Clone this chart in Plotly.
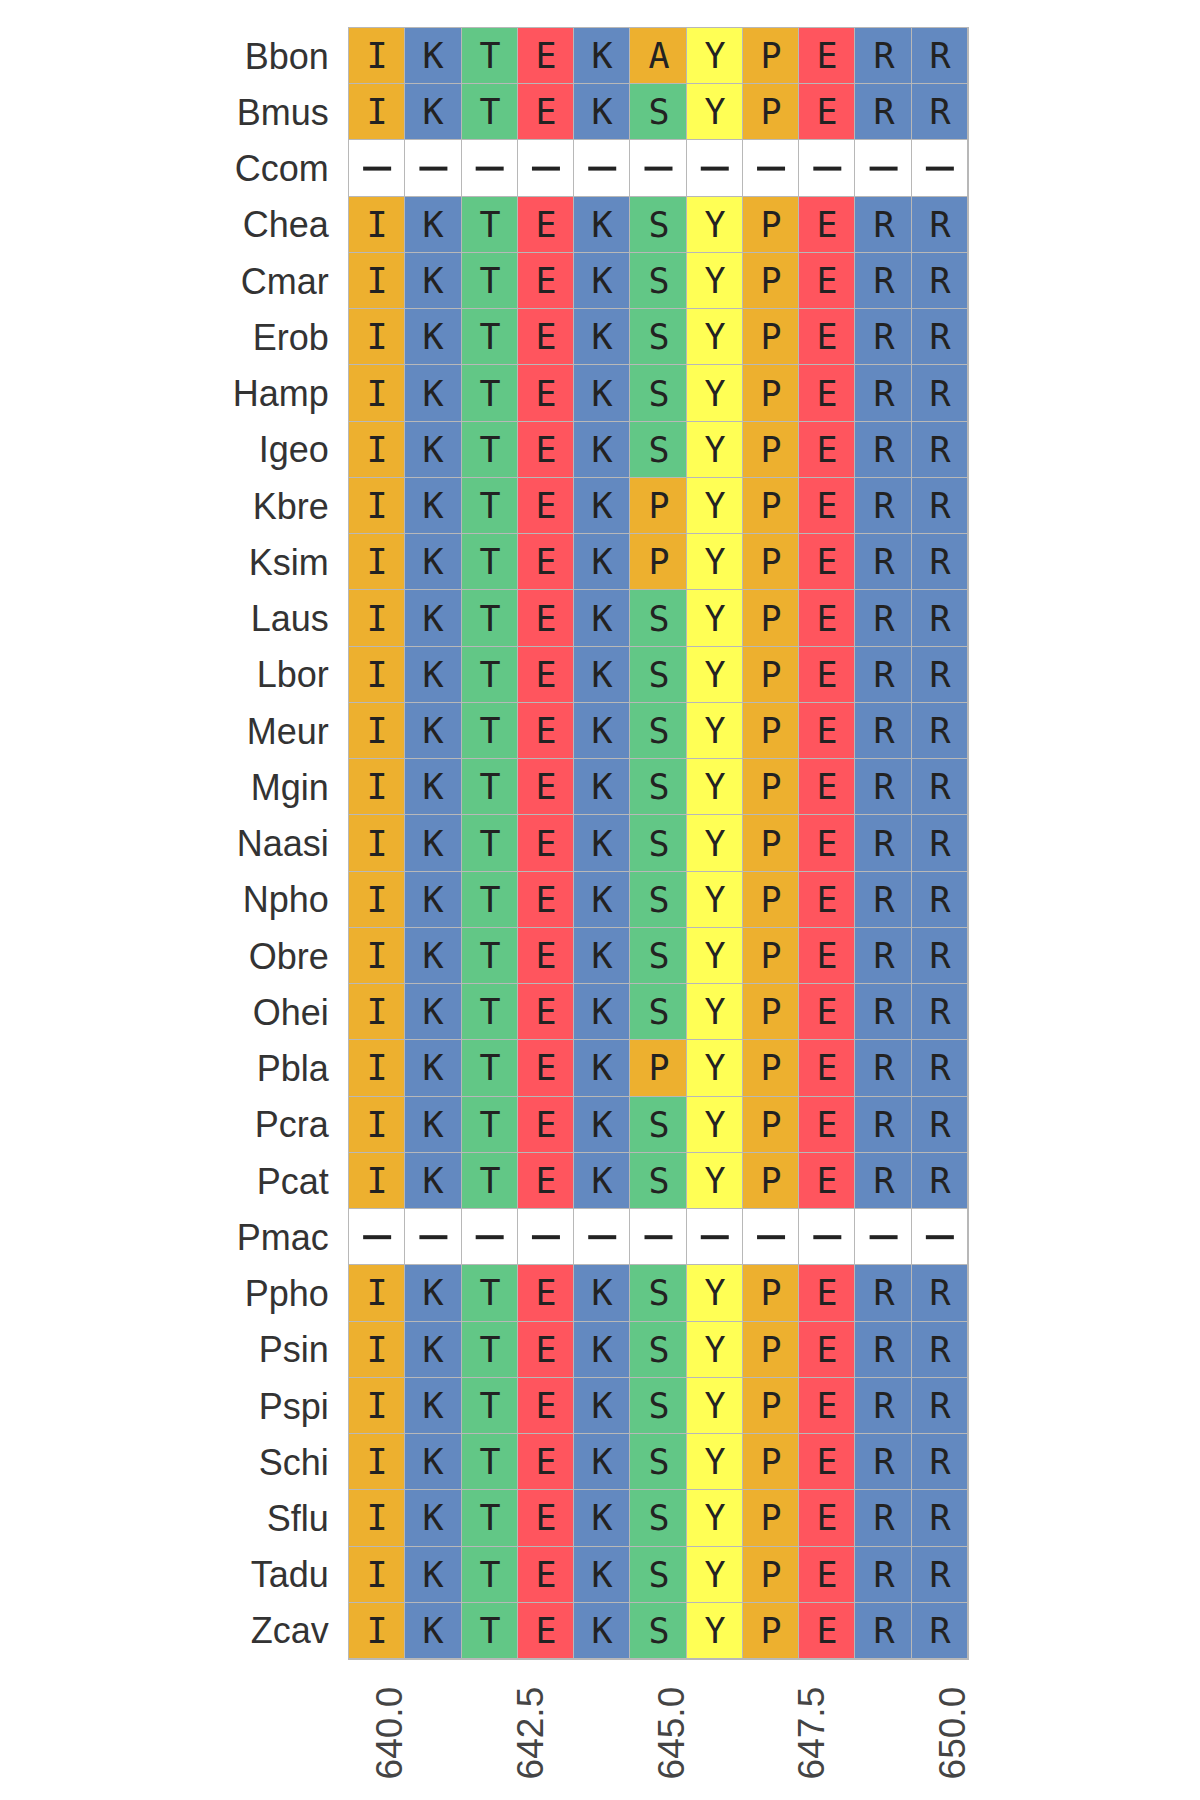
import plotly.graph_objects as go

species = ["Bbon", "Bmus", "Ccom", "Chea", "Cmar", "Erob", "Hamp", "Igeo", "Kbre", "Ksim",
           "Laus", "Lbor", "Meur", "Mgin", "Naasi", "Npho", "Obre", "Ohei", "Pbla", "Pcra",
           "Pcat", "Pmac", "Ppho", "Psin", "Pspi", "Schi", "Sflu", "Tadu", "Zcav"]
sequences = ["IKTEKAYPERR", "IKTEKSYPERR", "-----------", "IKTEKSYPERR", "IKTEKSYPERR",
             "IKTEKSYPERR", "IKTEKSYPERR", "IKTEKSYPERR", "IKTEKPYPERR", "IKTEKPYPERR",
             "IKTEKSYPERR", "IKTEKSYPERR", "IKTEKSYPERR", "IKTEKSYPERR", "IKTEKSYPERR",
             "IKTEKSYPERR", "IKTEKSYPERR", "IKTEKSYPERR", "IKTEKPYPERR", "IKTEKSYPERR",
             "IKTEKSYPERR", "-----------", "IKTEKSYPERR", "IKTEKSYPERR", "IKTEKSYPERR",
             "IKTEKSYPERR", "IKTEKSYPERR", "IKTEKSYPERR", "IKTEKSYPERR"]
positions = list(range(640, 651))
x_tickvals = [640.0, 642.5, 645.0, 647.5, 650.0]
x_ticktext = ["640.0", "642.5", "645.0", "647.5", "650.0"]

residue_group = {"-": 0, "I": 1, "A": 1, "P": 1, "K": 2, "R": 2, "T": 3, "S": 3, "E": 4, "Y": 5}
group_colors = ["#FFFFFF", "#EDB02F", "#6389C0", "#62C786", "#FF555E", "#FFFF55"]

z = [[residue_group[c] for c in s] for s in sequences]
text = [["" if c == "-" else c for c in s] for s in sequences]

gap_x, gap_y = [], []
for name, s in zip(species, sequences):
    for pos, c in zip(positions, s):
        if c == "-":
            gap_x.append(pos)
            gap_y.append(name)

n = len(group_colors)
colorscale = []
for i, col in enumerate(group_colors):
    colorscale.append([i / n, col])
    colorscale.append([(i + 1) / n, col])

fig = go.Figure(go.Heatmap(
    z=z, x=positions, y=species, text=text,
    texttemplate="%{text}",
    textfont=dict(family="DejaVu Sans Mono", size=35, color="#222222"),
    colorscale=colorscale, zmin=-0.5, zmax=n - 0.5, showscale=False,
    xgap=1, ygap=1, hoverinfo="skip",
))
fig.add_trace(go.Scatter(
    x=gap_x, y=gap_y, mode="markers",
    marker=dict(symbol="line-ew", size=20, line=dict(width=4, color="#222222")),
    hoverinfo="skip", showlegend=False,
))

fig.update_layout(
    width=1200, height=1800,
    margin=dict(l=349, r=232, t=28, b=141),
    paper_bgcolor="white", plot_bgcolor="#B8B8B8",
    font=dict(family="Liberation Sans, Arial", color="#333333"),
    showlegend=False,
)
fig.update_xaxes(
    range=[639.5, 650.5], tickvals=x_tickvals, ticktext=x_ticktext,
    tickangle=-90, tickfont=dict(size=37, color="#444444"),
    showgrid=False, zeroline=False, ticks="", ticklabelstandoff=12,
    ticklabelshift=13,
    showline=True, linecolor="#B8B8B8", linewidth=1, mirror=True,
)
fig.update_yaxes(
    autorange="reversed", tickfont=dict(size=36, color="#333333"),
    showgrid=False, zeroline=False, ticks="", ticklabelstandoff=12,
    showline=True, linecolor="#B8B8B8", linewidth=1, mirror=True,
)

fig.write_html("out.html")
